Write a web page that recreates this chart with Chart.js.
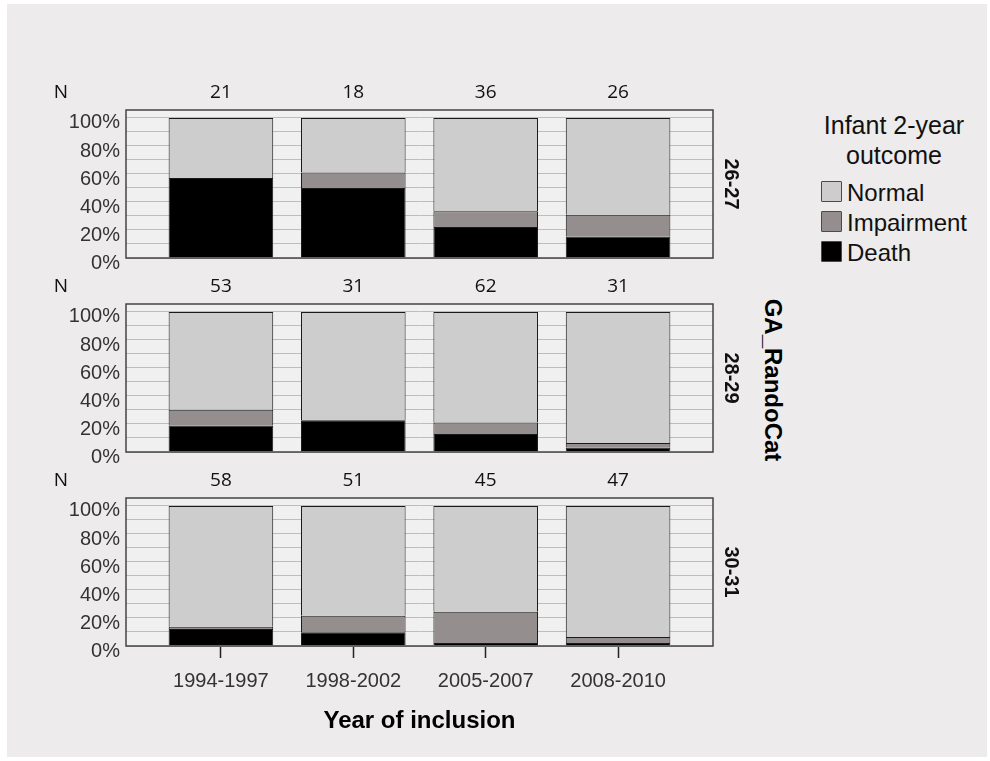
<!DOCTYPE html>
<html>
<head>
<meta charset="utf-8">
<script src="https://cdn.jsdelivr.net/npm/chart.js@4/dist/chart.umd.min.js"></script>
<style>
  html, body { margin: 0; padding: 0; background: #ffffff; }
  body { width: 990px; height: 761px; position: relative; overflow: hidden; font-family: "Liberation Sans", Arial, sans-serif; }
  #frame { position: absolute; left: 7px; top: 4px; width: 980px; height: 753px; background: #edebeb; }
  canvas { position: absolute; left: 0; }
  .txt { position: absolute; white-space: nowrap; color: #111; }
  .legend-title { font-size: 25px; line-height: 30px; text-align: center; width: 200px; left: 794px; top: 110px; }
  .swatch { position: absolute; left: 821px; width: 19px; height: 19px; border: 1.5px solid #4a4a4a; border-radius: 1px; }
  .legend-item { font-size: 24px; left: 847px; }
  #facetTitle { font-size: 24px; font-weight: bold; color: #000; left: 773px; top: 380px; transform: translate(-50%, -50%) rotate(90deg); }
</style>
</head>
<body>
<div id="frame"></div>

<div class="txt legend-title">Infant 2-year<br>outcome</div>
<div id="legendItems"></div>
<div class="txt" id="facetTitle">GA_RandoCat</div>

<script>
// Year-of-inclusion periods (x categories) and gestational-age groups (panels)
const periods = ['1994-1997', '1998-2002', '2005-2007', '2008-2010'];
const gaGroups = ['26-27', '28-29', '30-31'];

// Number of infants per period, one row per GA group
const nCounts = [
  [21, 18, 36, 26],
  [53, 31, 62, 31],
  [58, 51, 45, 47]
];

// Outcome percentages per period, one row per GA group
const deathPct = [
  [57.1, 50.0, 22.2, 15.4],
  [18.9, 22.6, 12.9, 3.2],
  [12.1, 9.8, 2.2, 2.1]
];
const impairPct = [
  [0.0, 11.1, 11.1, 15.4],
  [11.3, 0.0, 8.1, 3.2],
  [1.7, 11.8, 22.2, 4.3]
];
const normalPct = [
  [42.9, 38.9, 66.7, 69.2],
  [69.8, 77.4, 79.0, 93.5],
  [86.2, 78.4, 75.6, 93.6]
];

// Legend order (top to bottom) and stacking order (bottom to top)
const legendNames = ['Normal', 'Impairment', 'Death'];
const stackNames = ['Death', 'Impairment', 'Normal'];
const outcomeColors = { Normal: '#cdcdcd', Impairment: '#948e8e', Death: '#000000' };

// Percent axis: grid every 10 %, labels every 20 %
const yGridValues = [0, 10, 20, 30, 40, 50, 60, 70, 80, 90, 100];
const yLabelValues = [0, 20, 40, 60, 80, 100];

// ---- layout ----
const CANVAS_W = 760;
const PLOT_LEFT = 126;
const PLOT_RIGHT = 713;
const BOX_TOPS = [110, 304, 498];
const BOX_H = 148;
const PAD_TOP = 30;
const Y_MAX = 105.7;
const X_PAD = 0.717;
const LAST_BOTTOM = 750;

const FONT = '"Liberation Sans", Arial, sans-serif';

// Legend entries
(function buildLegend() {
  const host = document.getElementById('legendItems');
  legendNames.forEach((name, k) => {
    const sw = document.createElement('div');
    sw.className = 'swatch';
    sw.style.top = (181 + k * 30) + 'px';
    sw.style.background = outcomeColors[name];
    host.appendChild(sw);
    const t = document.createElement('div');
    t.className = 'txt legend-item';
    t.style.top = (179 + k * 30) + 'px';
    t.textContent = name;
    host.appendChild(t);
  });
})();

// Panel background, frame, N counts and group label
const panelDecor = {
  id: 'panelDecor',
  beforeDraw(chart) {
    const { ctx, chartArea: a } = chart;
    ctx.save();
    ctx.fillStyle = '#f1f0f0';
    ctx.fillRect(a.left, a.top, a.right - a.left, a.bottom - a.top);
    ctx.restore();
  },
  afterDatasetsDraw(chart) {
    const { ctx, chartArea: a } = chart;
    ctx.save();
    ctx.strokeStyle = '#444444';
    ctx.lineWidth = 1.5;
    ctx.strokeRect(a.left, a.top, a.right - a.left, a.bottom - a.top);
    ctx.restore();
  },
  afterDraw(chart, args, opts) {
    const i = opts.panel;
    const { ctx, chartArea: a, scales } = chart;
    ctx.save();
    ctx.fillStyle = '#111111';
    ctx.textBaseline = 'middle';
    ctx.textAlign = 'center';
    ctx.font = '19px "Open Sans", "Liberation Sans", sans-serif';
    const yN = a.top - 17;
    ctx.fillText('N', 61, yN);
    nCounts[i].forEach((n, j) => {
      ctx.fillText(String(n), scales.x.getPixelForValue(j), yN);
    });
    // group label, rotated clockwise
    ctx.translate(731, (a.top + a.bottom) / 2);
    ctx.rotate(Math.PI / 2);
    ctx.font = 'bold 20px ' + FONT;
    ctx.fillText(gaGroups[i], 0, 0);
    ctx.restore();
  }
};

function makePanel(i) {
  const last = i === gaGroups.length - 1;
  const top = BOX_TOPS[i] - PAD_TOP;
  const height = last ? LAST_BOTTOM - top : PAD_TOP + BOX_H + 20;
  const canvas = document.createElement('canvas');
  canvas.width = CANVAS_W;
  canvas.height = height;
  canvas.style.top = top + 'px';
  canvas.style.width = CANVAS_W + 'px';
  canvas.style.height = height + 'px';
  document.body.appendChild(canvas);

  const byName = { Death: deathPct[i], Impairment: impairPct[i], Normal: normalPct[i] };

  new Chart(canvas, {
    type: 'bar',
    data: {
      datasets: stackNames.map(name => ({
        label: name,
        data: byName[name].map((v, j) => ({ x: j, y: v })),
        backgroundColor: outcomeColors[name],
        borderColor: '#1a1a1a',
        borderWidth: 1,
        borderSkipped: 'start',
        barPercentage: 0.79,
        categoryPercentage: 1
      }))
    },
    options: {
      responsive: false,
      animation: false,
      devicePixelRatio: 1,
      layout: { padding: { top: PAD_TOP, right: CANVAS_W - PLOT_RIGHT, bottom: last ? 0 : 20, left: 0 } },
      plugins: {
        legend: { display: false },
        tooltip: { enabled: false },
        panelDecor: { panel: i }
      },
      scales: {
        x: {
          type: 'linear',
          stacked: true,
          offset: false,
          display: last,
          min: -X_PAD,
          max: periods.length - 1 + X_PAD,
          afterBuildTicks: s => { s.ticks = periods.map((p, j) => ({ value: j })); },
          afterFit: s => { if (last) s.height = LAST_BOTTOM - (BOX_TOPS[i] + BOX_H); },
          ticks: {
            autoSkip: false,
            maxRotation: 0,
            padding: 11,
            color: '#333333',
            font: { family: FONT, size: 20 },
            callback: v => periods[Math.round(v)] || ''
          },
          grid: { offset: false, drawOnChartArea: false, drawTicks: true, tickLength: 12, tickColor: '#222222', tickWidth: 1.5 },
          border: { display: false },
          title: {
            display: true,
            text: 'Year of inclusion',
            color: '#000000',
            font: { family: FONT, size: 24, weight: 'bold' },
            padding: { top: 0, bottom: 14 }
          }
        },
        y: {
          stacked: true,
          min: 0,
          max: Y_MAX,
          afterBuildTicks: s => { s.ticks = yGridValues.map(v => ({ value: v })); },
          afterFit: s => { s.width = PLOT_LEFT; },
          ticks: {
            autoSkip: false,
            padding: 6,
            labelOffset: 5,
            color: '#333333',
            font: { family: FONT, size: 20 },
            callback: v => (yLabelValues.includes(v) ? v + '%' : '')
          },
          grid: { color: '#bdbdbd', lineWidth: 1, drawTicks: false },
          border: { display: false }
        }
      }
    },
    plugins: [panelDecor]
  });
}

gaGroups.forEach((g, i) => makePanel(i));
</script>
</body>
</html>
